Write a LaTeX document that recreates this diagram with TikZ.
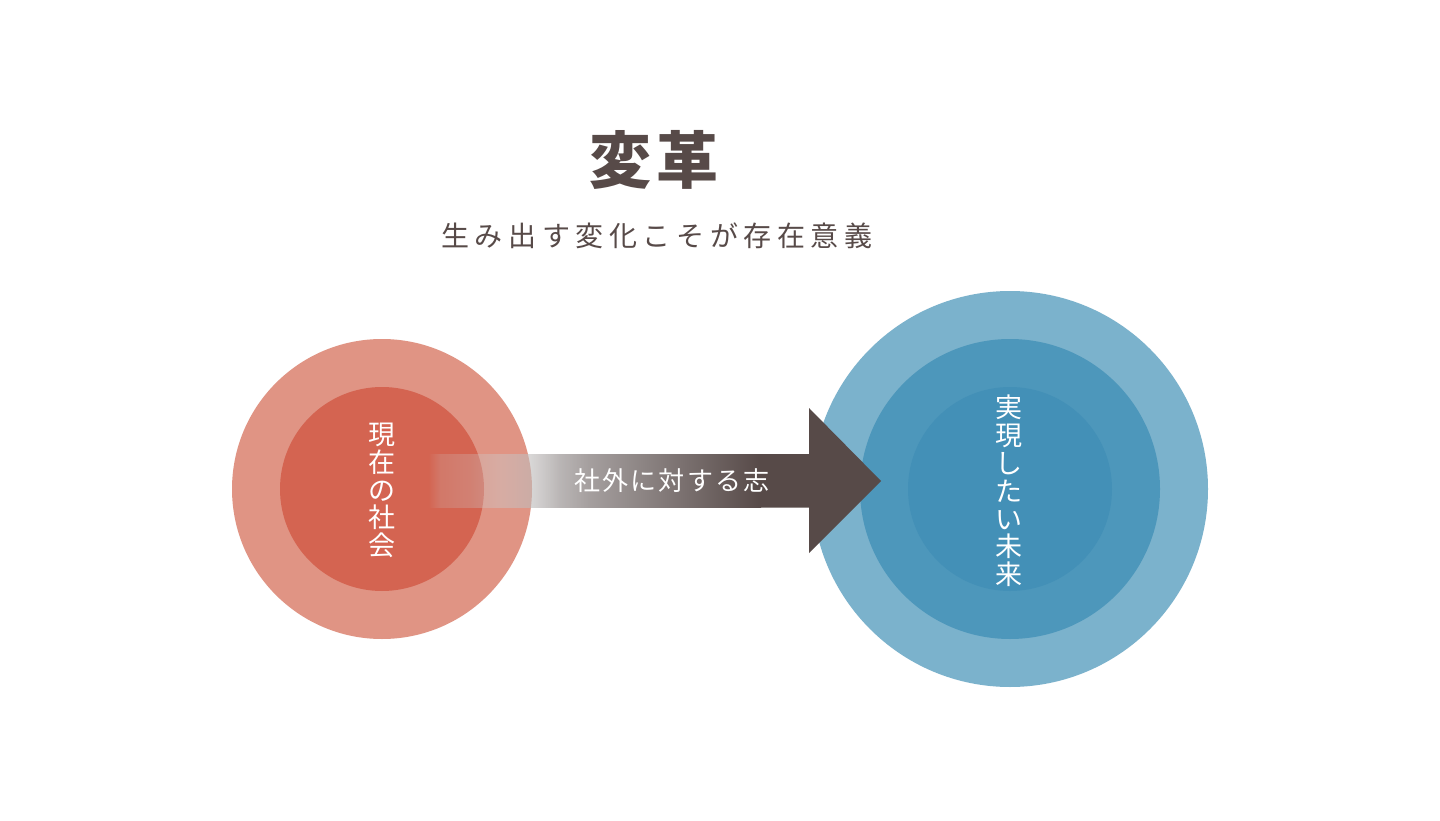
\documentclass[tikz,border=0pt]{standalone}
\usepackage{fontspec}
\newfontfamily\cjk{Noto Sans CJK JP}
\newfontfamily\cjksub[LetterSpace=20]{Noto Sans CJK JP}
\newfontfamily\cjklbl[LetterSpace=8]{Noto Sans CJK JP}
\newfontfamily\cjktitle[LetterSpace=8]{Noto Sans CJK JP}
\definecolor{ink}{HTML}{574A48}
\definecolor{redout}{HTML}{E09484}
\definecolor{redin}{HTML}{D46451}
\definecolor{blueout}{HTML}{7BB2CC}
\definecolor{bluemid}{HTML}{4D97BB}
\definecolor{bluein}{HTML}{4390B7}
\definecolor{shaftlight}{HTML}{CDCBCB}
\tikzset{
  disc/.style={circle, inner sep=0pt, draw=none},
  vtext/.style={align=center, text=white, font=\cjk\fontsize{27}{27.8}\selectfont},
}
\begin{document}
\begin{tikzpicture}[x=1pt, y=-1pt]
\useasboundingbox[fill=white] (0,0) rectangle (1440,821);
% title
\node[text=ink, font=\cjktitle\bfseries\fontsize{62}{62}\selectfont] (title) at (654,160) {変革};
\node[text=ink, font=\cjksub\fontsize{28}{28}\selectfont] (sub) at (657,236) {生み出す変化こそが存在意義};
% left circles
\node[disc, fill=redout, minimum size=300pt] (lout) at (382,489) {};
\node[disc, fill=redin, minimum size=204pt] (lin) at (382,489) {};
% right circles
\node[disc, fill=blueout, minimum size=396pt] (rout) at (1010,489) {};
\node[disc, fill=bluemid, minimum size=300pt] (rmid) at (1010,489) {};
\node[disc, fill=bluein, minimum size=204pt] (rin) at (1010,489) {};
% arrow: translucent tail, shaded shaft, solid head
\foreach \i in {428,...,599}{
  \pgfmathsetmacro\a{\i<440 ? 0.2*(\i-428)/12 : (\i<470 ? 0.2+0.08*(\i-440)/30 : (\i<530 ? 0.28+0.32*(\i-470)/60 : (\i<560 ? 0.6+0.3*(\i-530)/30 : min(1,0.9+0.1*(\i-560)/30))))}
  \pgfmathsetmacro\t{max(0,(\i-500)/260*100)}
  \fill[ink!\t!shaftlight, fill opacity=\a] (\i,454) rectangle (\i+1,507.5);
}
\coordinate (s1) at (600,454);
\coordinate (s2) at (760,454);
\coordinate (hb) at (809,454);
\coordinate (tip) at (881,481);
\shade[left color=ink!38.5!shaftlight, right color=ink] (s1) rectangle (761,507.5);
\fill[ink] (s2) -- (hb) -- (809,408) -- (tip) -- (809,553) -- (809,507.5) -- (760,507.5) -- cycle;
\node[text=white, font=\cjklbl\fontsize{26}{26}\selectfont] (lbl) at (672,481) {社外に対する志};
% vertical labels
\node[vtext] (ltext) at (382,490.5) {現\\在\\の\\社\\会};
\node[vtext] (rtext) at (1009,491) {実\\現\\し\\た\\い\\未\\来};
\end{tikzpicture}
\end{document}
